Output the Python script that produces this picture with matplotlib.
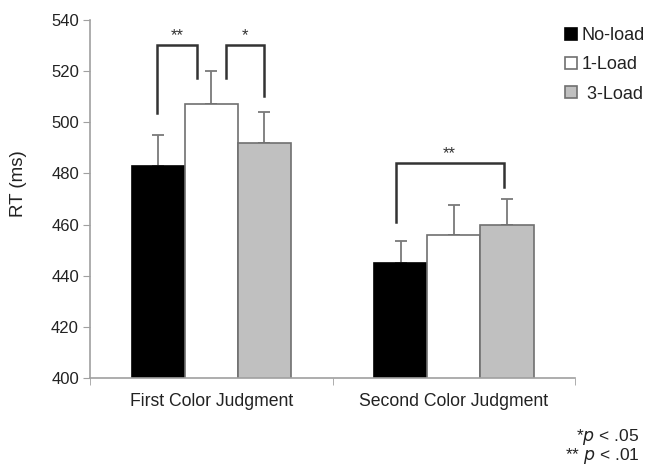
import numpy as np
import matplotlib.pyplot as plt

plt.rcParams['font.family'] = ['Liberation Sans', 'DejaVu Sans']

# mean RT per judgment and load condition, with upper error bar
categories = ["First Color Judgment", "Second Color Judgment"]
conditions = ["No-load", "1-Load", " 3-Load"]
means = {
    "No-load": [483, 445],
    "1-Load": [507, 456],
    "3-Load": [492, 460],
}
errors = {
    "No-load": [12, 8.5],
    "1-Load": [13, 11.5],
    "3-Load": [12, 10],
}
colors = ["black", "white", "#c0c0c0"]

fig = plt.figure(figsize=(6.46, 4.67), dpi=100)
ax = fig.add_axes([0.1393, 0.1906, 0.751, 0.7666])

x = np.arange(len(categories))
width = 0.219
for i, (key, c) in enumerate(zip(means, colors)):
    pos = x + (i - 1) * width
    ax.bar(pos, means[key], width, bottom=0, color=c,
           edgecolor="#707070" if i else "black", linewidth=1.2,
           label=conditions[i], zorder=2)
    ax.errorbar(pos, means[key], yerr=[np.zeros(2), errors[key]],
                fmt="none", ecolor="#7a7a7a", elinewidth=1.3,
                capsize=4, capthick=1.3, zorder=1)

# significance brackets: (x0, x1, y_left, y_right, top, label)
brackets = [
    (-0.223, -0.058, 503.6, 517.3, 530.2, "**"),
    (0.062, 0.219, 517.3, 510.3, 530.2, "*"),
    (1 - 0.24, 1 + 0.206, 461.1, 474.8, 484.2, "**"),
]
for x0, x1, yl, yr, top, lab in brackets:
    ax.plot([x0, x0, x1, x1], [yl, top, top, yr], color="#333333",
            lw=1.8, solid_joinstyle="miter", zorder=3)
    ax.text((x0 + x1) / 2, top + 0.6, lab, ha="center", va="bottom",
            fontsize=12, color="#333333")

ax.set_ylim(400, 540)
ax.set_xlim(-0.5, 1.5)
ax.set_yticks(range(400, 541, 20))
ax.set_xticks(x)
ax.set_xticklabels(categories)
ax.set_xticks([-0.5, 0.5, 1.5], minor=True)
ax.tick_params(axis="x", which="major", length=0, pad=11, labelsize=12.7,
               labelcolor="#222222")
ax.tick_params(axis="x", which="minor", length=5, color="#a0a0a0")
ax.tick_params(axis="y", length=5, color="#a0a0a0", labelsize=12, pad=3,
               labelcolor="#222222")
ax.set_ylabel("RT (ms)", fontsize=13.5, color="#222222")
ax.yaxis.set_label_coords(-0.148, 0.542)
ax.yaxis.label.set_va("center")

for s in ["top", "right"]:
    ax.spines[s].set_visible(False)
for s in ["left", "bottom"]:
    ax.spines[s].set_color("#a0a0a0")
    ax.spines[s].set_linewidth(1.2)

leg = ax.legend(loc="upper left", bbox_to_anchor=(0.965, 1.0), frameon=False,
                fontsize=13, handlelength=0.65, handleheight=0.65,
                handletextpad=0.25, labelspacing=0.68, borderaxespad=0)
for t in leg.get_texts():
    t.set_color("#222222")

fig.text(0.99, 0.055, r"*$\it{p}$ < .05", ha="right", fontsize=12.5,
         color="#222222")
fig.text(0.99, 0.015, r"** $\it{p}$ < .01", ha="right", fontsize=12.5,
         color="#222222")

fig.savefig("out.png", dpi=100)
